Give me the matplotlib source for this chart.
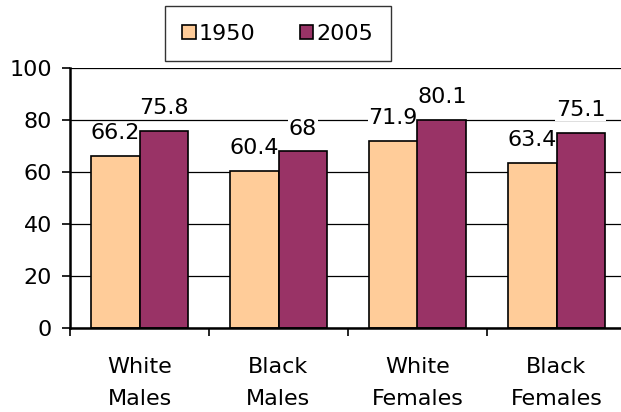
import numpy as np
import matplotlib.pyplot as plt

plt.rcParams['font.family'] = ['DejaVu Sans']

# Life expectancy at birth by group
groups = ["White\nMales", "Black\nMales", "White\nFemales", "Black\nFemales"]
years = ["1950", "2005"]
vals_1950 = [66.2, 60.4, 71.9, 63.4]
vals_2005 = [75.8, 68, 80.1, 75.1]
colors = ["#FFCC99", "#993366"]

fig = plt.figure(figsize=(6.21, 4.12), dpi=100)
ax = fig.add_axes([70 / 621, 1 - 328 / 412, 556 / 621, 260 / 412])

x = np.arange(len(groups))
w = 0.35
b1 = ax.bar(x - w / 2, vals_1950, w, color=colors[0], edgecolor="black", linewidth=1.2, label=years[0], zorder=4)
b2 = ax.bar(x + w / 2, vals_2005, w, color=colors[1], edgecolor="black", linewidth=1.2, label=years[1], zorder=4)

# value labels: white box hides the gridlines, bars stay on top
for bars, vals in ((b1, vals_1950), (b2, vals_2005)):
    for rect, v in zip(bars, vals):
        ax.annotate(f"{v:g}", (rect.get_x() + rect.get_width() / 2, v),
                    xytext=(0, 12), textcoords="offset points",
                    ha="center", va="baseline", fontsize=16, zorder=3,
                    bbox=dict(facecolor="white", edgecolor="none", pad=0.5))

ax.set_ylim(0, 100)
ax.set_xlim(-0.5, 3.5)
ax.set_yticks([0, 20, 40, 60, 80, 100])
ax.tick_params(axis="y", labelsize=16, length=6, width=1.2, pad=7)
ax.yaxis.grid(True, color="black", linewidth=0.9, zorder=0)

# category boundaries as ticks, names centered between them
ax.set_xticks(np.arange(-0.5, 4, 1))
ax.set_xticklabels([])
ax.set_xticks(x, minor=True)
ax.set_xticklabels(groups, minor=True, fontsize=16, linespacing=1.75)
ax.tick_params(axis="x", which="major", length=6, width=1.2)
ax.tick_params(axis="x", which="minor", length=0, pad=21)

for side in ("top", "right"):
    ax.spines[side].set_visible(False)
for side in ("left", "bottom"):
    ax.spines[side].set_linewidth(1.8)
    ax.spines[side].set_zorder(5)

leg = fig.legend(handles=[b1, b2], loc="center", bbox_to_anchor=(278 / 621, 1 - 33.5 / 412),
                 ncol=2, fontsize=16, frameon=True, fancybox=False, edgecolor="black",
                 handlelength=0.6, handleheight=0.6, handletextpad=0.15,
                 columnspacing=2.0, borderpad=0.8, borderaxespad=0)
leg.get_frame().set_linewidth(1.0)

fig.savefig("out.png", dpi=100)
